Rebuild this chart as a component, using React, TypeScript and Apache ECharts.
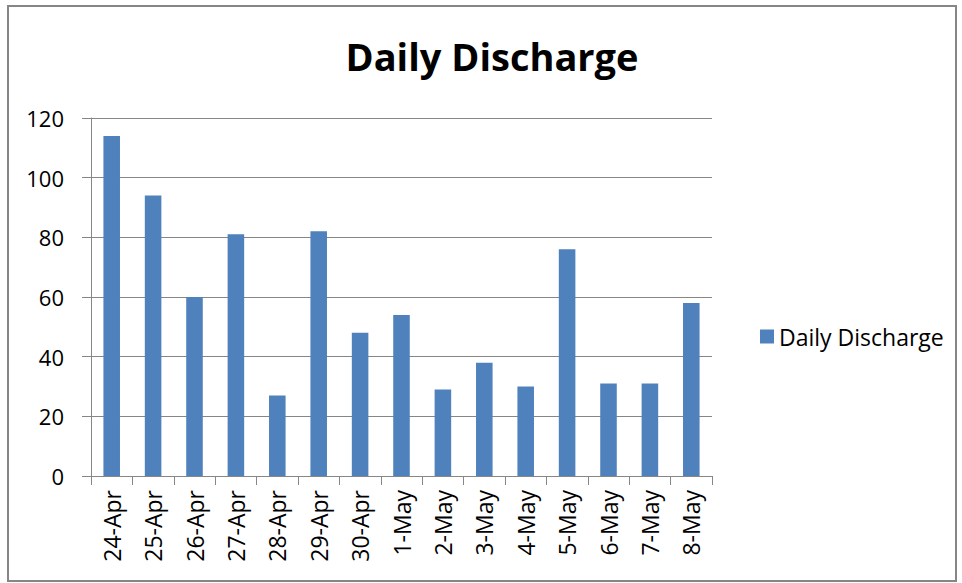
import React, { useEffect, useRef } from "react";
import * as echarts from "echarts";

const categories = ["24-Apr", "25-Apr", "26-Apr", "27-Apr", "28-Apr", "29-Apr", "30-Apr", "1-May", "2-May", "3-May", "4-May", "5-May", "6-May", "7-May", "8-May"];
const dischargeValues = [114, 94, 60, 81, 27, 82, 48, 54, 29, 38, 30, 76, 31, 31, 58];
const seriesName = "Daily Discharge";
const titleText = "Daily Discharge";

const FONT = "'Open Sans', 'Liberation Sans', sans-serif";
const GRAY = "#868686";

export default function App() {
  const ref = useRef<HTMLDivElement>(null);
  useEffect(() => {
    if (!ref.current) return;
    const chart = echarts.init(ref.current, undefined, { renderer: "svg" });
    chart.setOption({
      animation: false,
      backgroundColor: "#ffffff",
      title: {
        text: titleText,
        left: 487,
        top: 32,
        textAlign: "center",
        textStyle: { fontFamily: FONT, fontSize: 38, fontWeight: "bold", color: "#000" },
      },
      legend: {
        data: [seriesName],
        left: 755,
        top: 320,
        icon: "rect",
        itemWidth: 14,
        itemHeight: 14,
        textStyle: { fontFamily: FONT, fontSize: 23, color: "#000" },
      },
      grid: { left: 91, right: 250, top: 118, bottom: 107, containLabel: false },
      xAxis: {
        type: "category",
        data: categories,
        axisLine: { show: true, lineStyle: { color: GRAY, width: 1 } },
        axisTick: { show: true, length: 9, interval: 0, lineStyle: { color: GRAY } },
        axisLabel: { rotate: 90, interval: 0, margin: 14, fontFamily: FONT, fontSize: 23, color: "#000" },
      },
      yAxis: {
        type: "value",
        min: 0,
        max: 120,
        interval: 20,
        axisLine: { show: true, lineStyle: { color: GRAY, width: 1 } },
        axisTick: { show: true, length: 9, lineStyle: { color: GRAY } },
        splitLine: { show: true, lineStyle: { color: GRAY, width: 1 } },
        axisLabel: { margin: 27, fontFamily: FONT, fontSize: 22, color: "#000" },
      },
      series: [
        {
          name: seriesName,
          type: "bar",
          data: dischargeValues,
          barCategoryGap: "60%",
          itemStyle: { color: "#4F81BD" },
        },
      ],
      graphic: [
        {
          type: "rect",
          shape: { x: 8, y: 6, width: 948, height: 575 },
          style: { fill: "none", stroke: GRAY, lineWidth: 2 },
          silent: true,
        },
      ],
    });
    return () => chart.dispose();
  }, []);
  return (
    <div
      ref={ref}
      style={{ position: "absolute", left: 0, top: 0, width: 962, height: 583, background: "#fff" }}
    />
  );
}
